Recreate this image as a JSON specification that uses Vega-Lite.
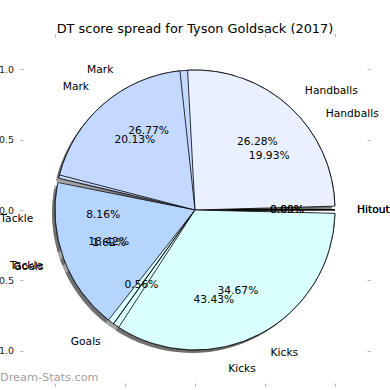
{
  "$schema": "https://vega.github.io/schema/vega-lite/v6.json",
  "width": 344,
  "height": 346,
  "autosize": {"type": "none"},
  "padding": {"left": 23, "top": 37, "right": 23, "bottom": 7},
  "background": "white",
  "config": {"view": {"stroke": null}, "font": "DejaVu Sans"},
  "title": {"text": "DT score spread for Tyson Goldsack (2017)", "fontSize": 12.9, "font": "DejaVu Sans", "fontWeight": "normal", "color": "#000000", "offset": -3, "anchor": "middle"},
  "datasets": {
    "front": [
      {"cat": "Hitout", "ord": 1, "pct": 0.0, "label": "0.00%"},
      {"cat": "Handballs", "ord": 2, "pct": 26.28, "label": "26.28%"},
      {"cat": "Mark", "ord": 3, "pct": 20.13, "label": "20.13%"},
      {"cat": "Tackle", "ord": 4, "pct": 18.42, "label": "18.42%"},
      {"cat": "Goals", "ord": 5, "pct": 0.56, "label": "0.56%"},
      {"cat": "Kicks", "ord": 6, "pct": 34.67, "label": "34.67%"}
    ],
    "back": [
      {"cat": "Hitout", "ord": 1, "pct": 0.09, "label": "0.09%"},
      {"cat": "Handballs", "ord": 2, "pct": 19.93, "label": "19.93%"},
      {"cat": "Mark", "ord": 3, "pct": 26.77, "label": "26.77%"},
      {"cat": "Tackle", "ord": 4, "pct": 8.16, "label": "8.16%"},
      {"cat": "Goals", "ord": 5, "pct": 1.62, "label": "1.62%"},
      {"cat": "Kicks", "ord": 6, "pct": 43.43, "label": "43.43%"}
    ],
    "mark": [{"t": "Dream-Stats.com"}]
  },
  "layer": [
    {
      "data": {"values": [{}]},
      "mark": {"type": "point", "opacity": 0},
      "encoding": {
        "x": {"datum": 0, "type": "quantitative", "scale": {"domain": [-1.23, 1.23], "nice": false, "zero": false},
              "axis": {"orient": "bottom", "values": [-1, -0.5, 0, 0.5, 1], "format": ".1f", "title": null, "domain": false, "grid": false, "tickColor": "#bbbbbb", "tickSize": 3.5, "labelFontSize": 9.5, "labelColor": "#222222", "labelPadding": 3}},
        "y": {"datum": 0, "type": "quantitative", "scale": {"domain": [-1.23, 1.23], "nice": false, "zero": false},
              "axis": {"orient": "left", "values": [-1, -0.5, 0, 0.5, 1], "format": ".1f", "title": null, "domain": false, "grid": false, "tickColor": "#bbbbbb", "tickSize": 3.5, "labelFontSize": 9.5, "labelColor": "#222222", "labelPadding": 6}}
      }
    },
    {
      "data": {"values": [{}]},
      "mark": {"type": "point", "opacity": 0},
      "encoding": {
        "x": {"datum": 0, "type": "quantitative", "scale": {"domain": [-1.23, 1.23], "nice": false, "zero": false}, "axis": {"orient": "top", "values": [-1, -0.5, 0, 0.5, 1], "labels": false, "title": null, "domain": false, "grid": false, "tickColor": "#bbbbbb", "tickSize": 3.5}},
        "y": {"datum": 0, "type": "quantitative", "scale": {"domain": [-1.23, 1.23], "nice": false, "zero": false}, "axis": {"orient": "right", "values": [-1, -0.5, 0, 0.5, 1], "labels": false, "title": null, "domain": false, "grid": false, "tickColor": "#bbbbbb", "tickSize": 3.5}}
      }
    },
    {
      "data": {"name": "back"},
      "mark": {"type": "arc", "radius": 140, "padAngle": 0.055, "fill": "#333333", "opacity": 0.45, "xOffset": -3, "yOffset": 3},
      "encoding": {
        "theta": {"field": "pct", "type": "quantitative", "stack": true, "scale": {"domain": [0, 100], "range": [1.5708, -4.7124]}},
        "order": {"field": "ord"},
        "detail": {"field": "cat"}
      }
    },
    {
      "data": {"name": "front"},
      "mark": {"type": "arc", "radius": 140, "padAngle": 0.055, "fill": "#333333", "opacity": 0.45, "xOffset": -3, "yOffset": 3},
      "encoding": {
        "theta": {"field": "pct", "type": "quantitative", "stack": true, "scale": {"domain": [0, 100], "range": [1.5708, -4.7124]}},
        "order": {"field": "ord"},
        "detail": {"field": "cat"}
      }
    },
    {
      "data": {"name": "back"},
      "mark": {"type": "arc", "radius": 140, "padAngle": 0.055, "stroke": "#000000", "strokeWidth": 0.8},
      "encoding": {
        "theta": {"field": "pct", "type": "quantitative", "stack": true, "scale": {"domain": [0, 100], "range": [1.5708, -4.7124]}},
        "order": {"field": "ord"},
        "color": {"field": "cat", "type": "nominal", "legend": null,
                  "scale": {"domain": ["Hitout", "Handballs", "Mark", "Tackle", "Goals", "Kicks"], "range": ["#ffffff", "#e9f0ff", "#c4d9ff", "#b5d5ff", "#cfe78f", "#d9ffff"]}}
      }
    },
    {
      "data": {"name": "front"},
      "mark": {"type": "arc", "radius": 140, "padAngle": 0.055, "stroke": "#000000", "strokeWidth": 0.8},
      "encoding": {
        "theta": {"field": "pct", "type": "quantitative", "stack": true, "scale": {"domain": [0, 100], "range": [1.5708, -4.7124]}},
        "order": {"field": "ord"},
        "color": {"field": "cat", "type": "nominal", "legend": null}
      }
    },
    {
      "data": {"name": "back"},
      "mark": {"type": "text", "radius": 162, "align": "left", "baseline": "middle", "fontSize": 10.7, "fill": "#000000"},
      "encoding": {
        "theta": {"field": "pct", "type": "quantitative", "stack": true},
        "order": {"field": "ord"},
        "detail": {"field": "cat"},
        "text": {"condition": {"test": "indexof(['Hitout','Handballs','Kicks'], datum.cat) >= 0", "field": "cat"}, "value": ""}
      }
    },
    {
      "data": {"name": "back"},
      "mark": {"type": "text", "radius": 162, "align": "right", "baseline": "middle", "fontSize": 10.7, "fill": "#000000"},
      "encoding": {
        "theta": {"field": "pct", "type": "quantitative", "stack": true},
        "order": {"field": "ord"},
        "detail": {"field": "cat"},
        "text": {"condition": {"test": "indexof(['Mark','Tackle','Goals'], datum.cat) >= 0", "field": "cat"}, "value": ""}
      }
    },
    {
      "data": {"name": "back"},
      "mark": {"type": "text", "radius": 92, "align": "center", "baseline": "middle", "fontSize": 10.7, "fill": "#000000"},
      "encoding": {
        "theta": {"field": "pct", "type": "quantitative", "stack": true},
        "order": {"field": "ord"},
        "detail": {"field": "cat"},
        "text": {"field": "label"}
      }
    },
    {
      "data": {"name": "front"},
      "mark": {"type": "text", "radius": 162, "align": "left", "baseline": "middle", "fontSize": 10.7, "fill": "#000000"},
      "encoding": {
        "theta": {"field": "pct", "type": "quantitative", "stack": true},
        "order": {"field": "ord"},
        "detail": {"field": "cat"},
        "text": {"condition": {"test": "indexof(['Hitout','Handballs','Kicks'], datum.cat) >= 0", "field": "cat"}, "value": ""}
      }
    },
    {
      "data": {"name": "front"},
      "mark": {"type": "text", "radius": 162, "align": "right", "baseline": "middle", "fontSize": 10.7, "fill": "#000000"},
      "encoding": {
        "theta": {"field": "pct", "type": "quantitative", "stack": true},
        "order": {"field": "ord"},
        "detail": {"field": "cat"},
        "text": {"condition": {"test": "indexof(['Mark','Tackle','Goals'], datum.cat) >= 0", "field": "cat"}, "value": ""}
      }
    },
    {
      "data": {"name": "front"},
      "mark": {"type": "text", "radius": 92, "align": "center", "baseline": "middle", "fontSize": 10.7, "fill": "#000000"},
      "encoding": {
        "theta": {"field": "pct", "type": "quantitative", "stack": true},
        "order": {"field": "ord"},
        "detail": {"field": "cat"},
        "text": {"field": "label"}
      }
    },
    {
      "data": {"name": "mark"},
      "mark": {"type": "text", "align": "left", "baseline": "middle", "fontSize": 11.3, "fill": "#a0a0a0", "clip": false},
      "encoding": {
        "x": {"datum": -1.3945, "type": "quantitative", "scale": {"domain": [-1.23, 1.23], "nice": false, "zero": false}, "axis": null},
        "y": {"datum": -1.194, "type": "quantitative", "scale": {"domain": [-1.23, 1.23], "nice": false, "zero": false}, "axis": null},
        "text": {"field": "t"}
      }
    }
  ],
  "resolve": {"axis": {"x": "independent", "y": "independent"}}
}
